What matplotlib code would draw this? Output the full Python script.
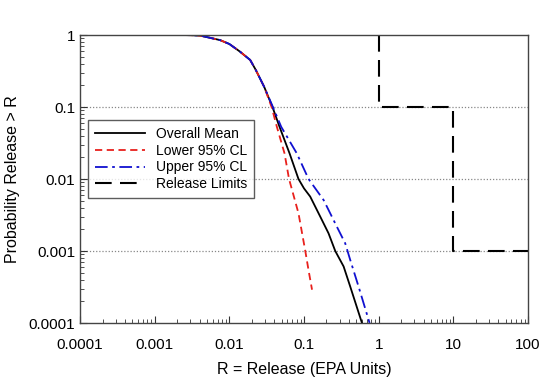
import numpy as np
import matplotlib
matplotlib.use('Agg')
import matplotlib.pyplot as plt
from matplotlib.ticker import LogLocator, NullFormatter

plt.rcParams['font.family'] = ['Liberation Sans', 'DejaVu Sans']

# Courbes (R, probabilite)
top_x = [1e-4, 1e-3, 0.0022, 0.003, 0.0041, 0.0075, 0.01, 0.0138, 0.019, 0.0226, 0.0293]
top_y = [1.0, 1.0, 1.0, 0.995, 0.98, 0.85, 0.75, 0.59, 0.45, 0.327, 0.19]

mean_x = top_x + [0.0378, 0.047, 0.064, 0.0843, 0.1, 0.121, 0.165, 0.213, 0.262, 0.339, 0.416, 0.597]
mean_y = top_y + [0.1, 0.053, 0.0227, 0.01, 0.0074, 0.0057, 0.003, 0.00176, 0.001, 0.00061, 0.00032, 0.0001]

lower_x = top_x + [0.0368, 0.0433, 0.0548, 0.063, 0.0843, 0.104, 0.115, 0.128]
lower_y = top_y + [0.1, 0.053, 0.0227, 0.01, 0.00334, 0.001, 0.00054, 0.00029]

upper_x = top_x + [0.0383, 0.0495, 0.080, 0.115, 0.183, 0.275, 0.356, 0.416, 0.538, 0.755]
upper_y = top_y + [0.1, 0.053, 0.0227, 0.01, 0.0051, 0.00218, 0.00128, 0.00075, 0.00032, 0.0001]

limit_x = [1, 1, 10, 10, 100]
limit_y = [1, 0.1, 0.1, 0.001, 0.001]

x_ticks = [1e-4, 1e-3, 1e-2, 1e-1, 1, 10, 100]
x_labels = ['0.0001', '0.001', '0.01', '0.1', '1', '10', '100']
y_ticks = [1e-4, 1e-3, 1e-2, 1e-1, 1]
y_labels = ['0.0001', '0.001', '0.01', '0.1', '1']

fig = plt.figure(figsize=(5.47, 3.78), dpi=100)
ax = fig.add_axes([0.1463, 0.1455, 0.819, 0.7619])

ax.plot(mean_x, mean_y, color='black', lw=1.3, label='Overall Mean')
ax.plot(lower_x, lower_y, color='#e8201c', lw=1.3, ls=(0, (4, 2.5)), label='Lower 95% CL')
ax.plot(upper_x, upper_y, color='#1010d0', lw=1.3, ls=(0, (7, 2.5, 1.5, 2.5)), label='Upper 95% CL')
ax.plot(limit_x, limit_y, color='black', lw=1.5, ls=(0, (8, 4)), label='Release Limits')

ax.set_xscale('log')
ax.set_yscale('log')
ax.set_xlim(1e-4, 100)
ax.set_ylim(1e-4, 1)

ax.set_xticks(x_ticks)
ax.set_xticklabels(x_labels)
ax.set_yticks(y_ticks)
ax.set_yticklabels(y_labels)
ax.xaxis.set_minor_locator(LogLocator(base=10, subs=np.arange(2, 10), numticks=20))
ax.yaxis.set_minor_locator(LogLocator(base=10, subs=np.arange(2, 10), numticks=20))
ax.xaxis.set_minor_formatter(NullFormatter())
ax.yaxis.set_minor_formatter(NullFormatter())
ax.tick_params(which='both', direction='in', top=False, right=False, labelsize=11, color='#333333')
ax.tick_params(which='major', length=5)
ax.tick_params(which='minor', length=3)
ax.tick_params(axis='x', pad=11)

# lignes pointillees horizontales
for yv in [0.1, 0.01, 0.001]:
    ax.axhline(yv, color='#888888', lw=0.9, ls=(0, (1, 1.5)), zorder=0)

for sp in ax.spines.values():
    sp.set_color('#444444')
    sp.set_linewidth(1.0)

ax.set_xlabel('R = Release (EPA Units)', fontsize=11.5, labelpad=7)
ax.set_ylabel('Probability Release > R', fontsize=11.5, labelpad=6)

leg = ax.legend(loc='upper left', bbox_to_anchor=(0.018, 0.705), fontsize=10,
                frameon=True, fancybox=False, handlelength=3.6, borderpad=0.5,
                labelspacing=0.2, handletextpad=0.8, borderaxespad=0)
leg.get_frame().set_edgecolor('#333333')
leg.get_frame().set_linewidth(1.0)

fig.savefig('out.png', dpi=100)
